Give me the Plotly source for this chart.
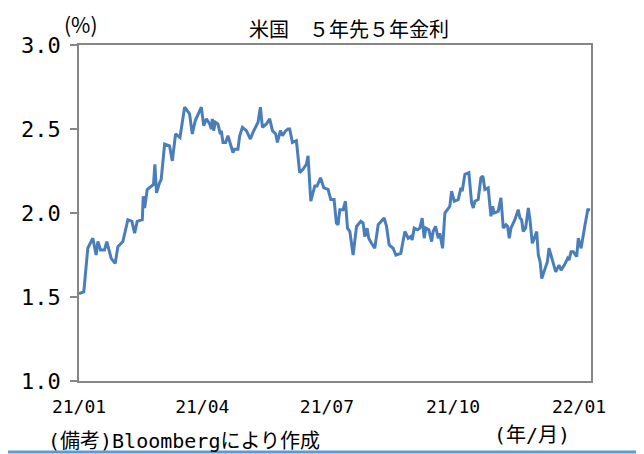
# US 5y5y forward rate chart

import pandas as pd
import plotly.graph_objects as go


# DATA

# days counted from 2021-01-01
day_offsets = [
    0, 3.5, 6.4, 10.1, 12.5, 13.8, 15.7, 18.6, 20.3, 23.5,
    26.4, 28.4, 32.0, 33.7, 35.7, 38.6, 40.6, 42.5, 46.2, 46.9,
    47.9, 49.8, 52.8, 54.4, 55.4, 56.6, 58.8, 60.0, 62.5, 66.1,
    68.1, 70.5, 73.7, 77.1, 80.7, 82.7, 84.9, 89.3, 91.0, 93.0,
    95.4, 96.6, 97.3, 98.3, 99.5, 101.4, 103.2, 103.9, 105.1, 107.0,
    108.7, 110.5, 112.4, 113.6, 116.0, 117.3, 119.3, 122.2, 125.1, 127.0,
    130.7, 132.4, 133.9, 136.8, 139.2, 141.2, 143.6, 144.8, 147.0, 148.5,
    150.9, 152.6, 153.8, 155.8, 158.7, 161.1, 163.5, 166.0, 167.2, 169.2,
    172.1, 173.8, 176.3, 178.7, 181.8, 183.8, 186.2, 187.9, 189.1, 190.4,
    192.8, 194.5, 196.0, 197.7, 200.1, 202.6, 205.7, 207.4, 208.6, 210.3,
    211.5, 213.5, 215.9, 218.4, 220.8, 222.7, 224.5, 226.4, 229.3, 231.3,
    234.9, 237.9, 240.3, 242.2, 243.2, 244.7, 247.1, 248.8, 250.5, 252.0,
    253.2, 255.4, 257.4, 258.5, 260.3, 262.2, 263.4, 265.4, 267.1, 268.8,
    270.7, 272.0, 273.9, 276.8, 278.8, 279.7, 281.7, 284.6, 286.6, 287.8,
    289.0, 291.4, 293.4, 294.8, 296.3, 298.7, 300.7, 301.9, 303.1, 306.0,
    308.0, 309.7, 311.7, 312.9, 314.1, 315.3, 318.2, 320.6, 321.9, 323.1,
    324.3, 326.0, 328.0, 329.2, 330.9, 332.4, 334.1, 335.3, 336.6, 337.8,
    340.2, 341.9, 343.1, 345.0, 348.0, 350.4, 351.9, 354.3, 356.7, 357.7,
    359.2, 360.8, 363.3, 364.5, 366.5, 369.4, 371.4, 373.1,
]

rate = [
    1.52, 1.53, 1.79, 1.85, 1.75, 1.83, 1.78, 1.78, 1.83, 1.73,
    1.70, 1.80, 1.83, 1.89, 1.96, 1.95, 1.88, 1.95, 1.96, 2.10,
    2.03, 2.14, 2.16, 2.17, 2.29, 2.12, 2.18, 2.20, 2.41, 2.40,
    2.31, 2.47, 2.45, 2.63, 2.59, 2.47, 2.55, 2.63, 2.52, 2.56,
    2.53, 2.50, 2.56, 2.49, 2.54, 2.53, 2.47, 2.49, 2.42, 2.42,
    2.46, 2.41, 2.36, 2.38, 2.38, 2.46, 2.51, 2.49, 2.44, 2.48,
    2.54, 2.63, 2.51, 2.53, 2.56, 2.49, 2.47, 2.42, 2.49, 2.46,
    2.49, 2.50, 2.50, 2.42, 2.43, 2.24, 2.26, 2.29, 2.34, 2.07,
    2.16, 2.16, 2.21, 2.15, 2.14, 2.08, 2.08, 1.94, 1.93, 2.02,
    2.02, 2.07, 1.91, 1.89, 1.75, 1.92, 1.95, 1.94, 1.86, 1.91,
    1.85, 1.82, 1.79, 1.93, 1.95, 1.97, 1.92, 1.81, 1.79, 1.75,
    1.76, 1.89, 1.85, 1.86, 1.84, 1.91, 1.90, 1.91, 1.97, 1.85,
    1.91, 1.90, 1.83, 1.89, 1.92, 1.85, 1.88, 1.79, 2.00, 2.02,
    2.04, 2.13, 2.07, 2.08, 2.15, 2.13, 2.23, 2.24, 2.06, 2.03,
    2.07, 2.08, 2.21, 2.22, 2.14, 2.15, 1.98, 2.04, 2.00, 2.01,
    2.09, 1.91, 1.93, 1.92, 1.85, 1.91, 1.96, 2.02, 1.97, 1.96,
    1.89, 1.91, 2.03, 1.96, 1.82, 1.85, 1.89, 1.75, 1.71, 1.61,
    1.67, 1.71, 1.79, 1.73, 1.65, 1.69, 1.66, 1.69, 1.73, 1.72,
    1.77, 1.77, 1.74, 1.85, 1.79, 1.93, 2.02, 2.02,
]

tick_dates = ['2021-01-01', '2021-04-01', '2021-07-01', '2021-10-01', '2022-01-01']
tick_labels = ['21/01', '21/04', '21/07', '21/10', '22/01']

dates = pd.Timestamp('2021-01-01') + pd.to_timedelta(day_offsets, unit='D')


# GRAPH ------------------------------------------

fig = go.Figure()
fig.add_trace(go.Scatter(x=dates, y=rate, mode='lines',
                         line=dict(color='#4a7ebb', width=3)))

# page has an 8px body margin, so the figure is 8px smaller each way
fig.update_layout(
    width=636, height=446,
    margin=dict(l=71, r=53, t=37, b=73, autoexpand=False),
    paper_bgcolor='white', plot_bgcolor='white',
    showlegend=False,
    font=dict(family='DejaVu Sans Mono, Noto Sans CJK JP', color='black'),
)

fig.update_xaxes(
    range=['2021-01-01', '2022-01-09 18:00'],
    tickvals=tick_dates, ticktext=tick_labels,
    showgrid=False, zeroline=False, automargin=False,
    showline=True, linecolor='#868686', linewidth=1.5, mirror=True,
    ticks='', tickfont=dict(size=18), ticklabelstandoff=9,
)

fig.update_yaxes(
    range=[1.0, 3.0], dtick=0.5, tickformat='.1f',
    showgrid=False, zeroline=False, automargin=False,
    showline=True, linecolor='#868686', linewidth=1.5, mirror=True,
    ticks='outside', ticklen=7, tickcolor='#868686', tickwidth=1.5,
    tickfont=dict(size=22), ticklabelstandoff=5,
)

# title and notes
fig.add_annotation(text='米国　５年先５年金利', x=0.527, y=1.05, xref='paper', yref='paper',
                   yanchor='middle', showarrow=False,
                   font=dict(family='Noto Sans CJK JP', size=20))
fig.add_annotation(text='(%)', x=-0.034, y=1.012, xref='paper', yref='paper',
                   xanchor='left', yanchor='bottom', showarrow=False,
                   font=dict(family='Noto Sans CJK JP', size=21))
fig.add_annotation(text='(備考)Bloombergにより作成', x=-0.064, y=-0.179, xref='paper', yref='paper',
                   xanchor='left', yanchor='middle', showarrow=False,
                   font=dict(size=20))
fig.add_annotation(text='(年/月)', x=0.884, y=-0.161, xref='paper', yref='paper',
                   xanchor='center', yanchor='middle', showarrow=False,
                   font=dict(size=20))

# blue rule along the bottom of the page
fig.add_shape(type='line', xref='paper', yref='paper',
              x0=-0.16, x1=1.2, y0=-0.211, y1=-0.211,
              line=dict(color='#5b9bd5', width=3))

fig.write_html("out.html")
